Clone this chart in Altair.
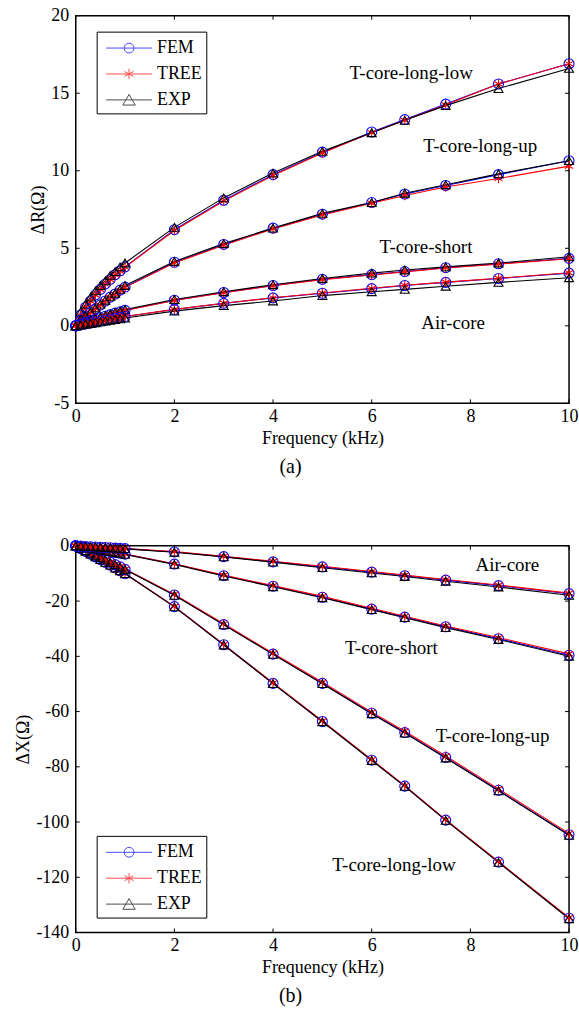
import altair as alt
import pandas as pd

FONT = "Liberation Serif"

FREQ = [0, 0.1, 0.2, 0.3, 0.4, 0.5, 0.6, 0.7, 0.8, 0.9, 1.0, 2, 3, 4, 5, 6, 6.67, 7.5, 8.57, 10]
METHODS = ["FEM", "TREE", "EXP"]
COLORS = ["#0000ff", "#ff0000", "#000000"]
CONFIGS = ["T-core-long-low", "T-core-long-up", "T-core-short", "Air-core"]
X_TICKS = [0, 2, 4, 6, 8, 10]
R_TICKS = [-5, 0, 5, 10, 15, 20]
XR_TICKS = [-140, -120, -100, -80, -60, -40, -20, 0]

# ΔR (Ω)  -- panel (a)
R_LONG_LOW_FEM  = [0, 0.70, 1.20, 1.60, 2.00, 2.35, 2.70, 3.00, 3.30, 3.55, 3.80, 6.20, 8.10, 9.75, 11.20, 12.50, 13.30, 14.30, 15.60, 16.90]
R_LONG_LOW_TREE = [0, 0.68, 1.18, 1.58, 1.98, 2.33, 2.68, 2.98, 3.28, 3.53, 3.78, 6.15, 8.05, 9.70, 11.15, 12.45, 13.25, 14.25, 15.60, 16.90]
R_LONG_LOW_EXP  = [0, 0.90, 1.40, 1.85, 2.25, 2.60, 2.90, 3.25, 3.50, 3.80, 4.05, 6.35, 8.25, 9.85, 11.25, 12.45, 13.25, 14.20, 15.30, 16.60]
R_LONG_UP_FEM   = [0, 0.35, 0.60, 0.85, 1.10, 1.35, 1.60, 1.85, 2.05, 2.30, 2.50, 4.10, 5.25, 6.30, 7.20, 7.95, 8.50, 9.05, 9.75, 10.65]
R_LONG_UP_TREE  = [0, 0.34, 0.59, 0.84, 1.09, 1.34, 1.58, 1.83, 2.03, 2.28, 2.48, 4.05, 5.20, 6.25, 7.15, 7.90, 8.40, 8.95, 9.50, 10.30]
R_LONG_UP_EXP   = [0, 0.40, 0.65, 0.90, 1.15, 1.40, 1.65, 1.90, 2.10, 2.35, 2.60, 4.15, 5.30, 6.30, 7.25, 7.95, 8.55, 9.10, 9.80, 10.65]
R_SHORT_FEM     = [0, 0.12, 0.22, 0.32, 0.42, 0.52, 0.62, 0.72, 0.82, 0.90, 1.00, 1.65, 2.15, 2.60, 3.00, 3.30, 3.50, 3.75, 4.00, 4.35]
R_SHORT_TREE    = [0, 0.12, 0.22, 0.32, 0.42, 0.52, 0.62, 0.72, 0.81, 0.90, 0.99, 1.63, 2.13, 2.58, 2.98, 3.28, 3.48, 3.73, 3.98, 4.33]
R_SHORT_EXP     = [0, 0.15, 0.26, 0.36, 0.46, 0.56, 0.66, 0.76, 0.86, 0.95, 1.05, 1.70, 2.20, 2.65, 3.05, 3.40, 3.60, 3.80, 4.05, 4.45]
R_AIR_FEM       = [0, 0.06, 0.12, 0.18, 0.24, 0.30, 0.36, 0.42, 0.48, 0.54, 0.60, 1.05, 1.45, 1.80, 2.10, 2.40, 2.60, 2.80, 3.05, 3.40]
R_AIR_TREE      = [0, 0.06, 0.12, 0.18, 0.24, 0.30, 0.36, 0.42, 0.48, 0.54, 0.60, 1.06, 1.46, 1.81, 2.12, 2.42, 2.62, 2.82, 3.07, 3.42]
R_AIR_EXP       = [0, 0.05, 0.10, 0.15, 0.20, 0.25, 0.30, 0.35, 0.40, 0.45, 0.50, 0.95, 1.30, 1.60, 1.95, 2.20, 2.35, 2.55, 2.80, 3.10]

# ΔX (Ω)  -- panel (b)
X_LONG_LOW_FEM  = [0, -1.0, -2.0, -3.0, -4.0, -5.0, -6.0, -7.0, -8.0, -9.0, -10.0, -22.0, -35.8, -49.8, -63.6, -77.6, -87.0, -99.3, -114.5, -134.8]
X_LONG_LOW_TREE = [0, -1.0, -2.0, -3.0, -4.0, -5.0, -6.0, -7.0, -8.0, -9.0, -10.0, -21.9, -35.7, -49.6, -63.4, -77.4, -86.8, -99.1, -114.3, -134.6]
X_LONG_LOW_EXP  = [0, -1.0, -2.0, -3.0, -4.0, -5.0, -6.0, -7.0, -8.0, -9.0, -10.1, -22.1, -35.9, -49.9, -63.7, -77.7, -87.1, -99.4, -114.6, -135.0]
X_LONG_UP_FEM   = [0, -0.85, -1.7, -2.55, -3.4, -4.25, -5.1, -5.95, -6.8, -7.6, -8.5, -17.8, -28.5, -39.2, -49.8, -60.6, -67.6, -76.6, -88.5, -104.6]
X_LONG_UP_TREE  = [0, -0.85, -1.7, -2.55, -3.4, -4.25, -5.1, -5.9, -6.75, -7.55, -8.4, -17.6, -28.2, -38.9, -49.4, -60.2, -67.1, -76.1, -88.0, -104.1]
X_LONG_UP_EXP   = [0, -0.85, -1.7, -2.55, -3.4, -4.25, -5.1, -5.95, -6.8, -7.65, -8.55, -17.9, -28.6, -39.3, -49.9, -60.8, -67.8, -76.8, -88.7, -104.8]
X_SHORT_FEM     = [0, -0.3, -0.6, -0.9, -1.2, -1.5, -1.8, -2.1, -2.4, -2.7, -3.0, -6.6, -10.8, -14.6, -18.6, -22.9, -25.8, -29.3, -33.6, -39.6]
X_SHORT_TREE    = [0, -0.3, -0.6, -0.9, -1.2, -1.5, -1.8, -2.1, -2.4, -2.7, -3.0, -6.5, -10.6, -14.4, -18.3, -22.6, -25.5, -29.0, -33.2, -39.1]
X_SHORT_EXP     = [0, -0.3, -0.6, -0.9, -1.2, -1.5, -1.8, -2.1, -2.4, -2.7, -3.1, -6.7, -10.9, -14.8, -18.8, -23.1, -26.0, -29.6, -33.9, -40.0]
X_AIR_FEM       = [0, -0.1, -0.2, -0.3, -0.4, -0.5, -0.6, -0.7, -0.8, -0.9, -1.0, -2.2, -3.9, -5.8, -7.6, -9.5, -10.8, -12.4, -14.4, -17.3]
X_AIR_TREE      = [0, -0.1, -0.2, -0.3, -0.4, -0.5, -0.6, -0.7, -0.8, -0.9, -1.0, -2.1, -3.8, -5.6, -7.4, -9.3, -10.6, -12.2, -14.2, -17.1]
X_AIR_EXP       = [0, -0.1, -0.2, -0.3, -0.4, -0.5, -0.6, -0.7, -0.8, -0.9, -1.1, -2.3, -4.0, -5.9, -7.9, -9.8, -11.1, -12.8, -14.9, -17.9]

# annotation anchors (data units)
ANN_TEXT = CONFIGS
ANN_R_X = [6.8, 8.2, 7.1, 7.65]
ANN_R_Y = [16.3, 11.6, 5.05, 0.15]
ANN_X_X = [6.45, 8.45, 6.4, 8.75]
ANN_X_Y = [-115.5, -68.8, -36.9, -6.9]

ASTER = "M0,-1V1M-0.87,-0.5L0.87,0.5M-0.87,0.5L0.87,-0.5"
LEG_PATHS = [
    "M-2,0H2M0.43,0A0.43,0.43 0 1,1 -0.43,0A0.43,0.43 0 1,1 0.43,0",
    "M-2,0H2M0,-0.45V0.45M-0.39,-0.22L0.39,0.22M-0.39,0.22L0.39,-0.22",
    "M-2,0H2M0,-0.48L0.54,0.45L-0.54,0.45Z",
]

HYPHEN_LABEL = "datum.value < 0 ? '-' + abs(datum.value) : '' + datum.value"


def long_df(table):
    rows = []
    for cfg, series in table.items():
        for m, vals in zip(METHODS, series):
            for f, v in zip(FREQ, vals):
                rows.append({"freq": f, "value": v, "config": cfg, "method": m})
    return pd.DataFrame(rows)


df_r = long_df({
    "T-core-long-low": [R_LONG_LOW_FEM, R_LONG_LOW_TREE, R_LONG_LOW_EXP],
    "T-core-long-up": [R_LONG_UP_FEM, R_LONG_UP_TREE, R_LONG_UP_EXP],
    "T-core-short": [R_SHORT_FEM, R_SHORT_TREE, R_SHORT_EXP],
    "Air-core": [R_AIR_FEM, R_AIR_TREE, R_AIR_EXP],
})
df_x = long_df({
    "T-core-long-low": [X_LONG_LOW_FEM, X_LONG_LOW_TREE, X_LONG_LOW_EXP],
    "T-core-long-up": [X_LONG_UP_FEM, X_LONG_UP_TREE, X_LONG_UP_EXP],
    "T-core-short": [X_SHORT_FEM, X_SHORT_TREE, X_SHORT_EXP],
    "Air-core": [X_AIR_FEM, X_AIR_TREE, X_AIR_EXP],
})

W = 495


def panel(df, H, ydomain, yticks, ytitle, ann_x, ann_y, legend_y, title_text):
    xsc = alt.Scale(domain=[0, 10], nice=False, zero=False)
    ysc = alt.Scale(domain=ydomain, nice=False, zero=False)
    color_sc = alt.Scale(domain=METHODS, range=COLORS)
    xax = alt.Axis(values=X_TICKS, title="Frequency (kHz)", labelFlush=False, labelPadding=4,
                   titlePadding=4, grid=False, ticks=False, domain=False)
    yax = alt.Axis(values=yticks, title=ytitle, labelFlush=False, labelPadding=7, labelExpr=HYPHEN_LABEL,
                   titlePadding=3, grid=False, ticks=False, domain=False, labelOverlap=False)

    lines = alt.Chart(df).mark_line(strokeWidth=1.1, clip=False).encode(
        x=alt.X("freq:Q", scale=xsc, axis=xax),
        y=alt.Y("value:Q", scale=ysc, axis=yax),
        color=alt.Color("method:N", scale=color_sc, legend=None),
        detail="config:N",
    )
    points = alt.Chart(df).mark_point(filled=False, strokeWidth=1.1, opacity=1, clip=False).encode(
        x="freq:Q",
        y="value:Q",
        color=alt.Color("method:N", scale=color_sc, legend=None),
        shape=alt.Shape("method:N", scale=alt.Scale(domain=METHODS, range=["circle", ASTER, "triangle-up"]), legend=None),
        size=alt.Size("method:N", scale=alt.Scale(domain=METHODS, range=[100, 81, 144]), legend=None),
    )
    leg = alt.Legend(orient="none", legendX=21, legendY=legend_y, title=None, direction="vertical",
                     labelFont=FONT, labelFontSize=18, labelColor="black", symbolSize=529,
                     symbolStrokeWidth=1, strokeColor="black", fillColor="white", padding=4.5,
                     symbolOffset=16, labelOffset=16, rowPadding=5, cornerRadius=0)
    leg_df = pd.DataFrame({"method": METHODS, "freq": [None] * 3, "value": [None] * 3})
    legend_layer = alt.Chart(leg_df).mark_point(filled=False, strokeWidth=1).encode(
        x="freq:Q",
        y="value:Q",
        color=alt.Color("method:N", scale=color_sc, legend=leg),
        shape=alt.Shape("method:N", scale=alt.Scale(domain=METHODS, range=LEG_PATHS), legend=leg),
    )
    ann_df = pd.DataFrame({"freq": ann_x, "value": ann_y, "label": ANN_TEXT})
    ann = alt.Chart(ann_df).mark_text(font=FONT, fontSize=19, align="center", baseline="middle",
                                       color="black").encode(x="freq:Q", y="value:Q", text="label:N")
    xt = pd.DataFrame({"freq": X_TICKS})
    yt = pd.DataFrame({"value": yticks})
    xt_bot = alt.Chart(xt).mark_rule(color="black", strokeWidth=1).encode(
        x="freq:Q", y=alt.value(H), y2=alt.value(H - 4))
    xt_top = alt.Chart(xt).mark_rule(color="black", strokeWidth=1).encode(
        x="freq:Q", y=alt.value(0), y2=alt.value(4))
    yt_left = alt.Chart(yt).mark_rule(color="black", strokeWidth=1).encode(
        y="value:Q", x=alt.value(0), x2=alt.value(4))
    yt_right = alt.Chart(yt).mark_rule(color="black", strokeWidth=1).encode(
        y="value:Q", x=alt.value(W), x2=alt.value(W - 4))

    return alt.layer(lines, points, ann, xt_bot, xt_top, yt_left, yt_right, legend_layer).resolve_scale(
        color="independent", shape="independent", size="independent"
    ).properties(
        width=W, height=H,
        title=alt.TitleParams(title_text, orient="bottom", font=FONT, fontSize=20, fontWeight="normal",
                              color="black", offset=10, frame="group", anchor="middle", dx=-32),
    )


top = panel(df_r, 389, [-5, 20], R_TICKS, "ΔR(Ω)", ANN_R_X, ANN_R_Y, 16, "(a)")
bottom = panel(df_x, 388, [-140, 0], XR_TICKS, "ΔX(Ω)", ANN_X_X, ANN_X_Y, 291, "(b)")

chart = alt.vconcat(top, bottom, spacing=143, bounds="flush").resolve_scale(
    color="independent", shape="independent", size="independent"
).configure(
    font=FONT, padding={"left": 14, "top": 4, "right": 0, "bottom": 0}, background="white"
).configure_view(
    stroke="black", strokeWidth=1.5
).configure_axis(
    labelFont=FONT, titleFont=FONT, labelFontSize=18, titleFontSize=18, titleFontWeight="normal",
    labelColor="black", titleColor="black"
)

chart.save("out.html", embed_options={"renderer": "svg", "actions": False})
